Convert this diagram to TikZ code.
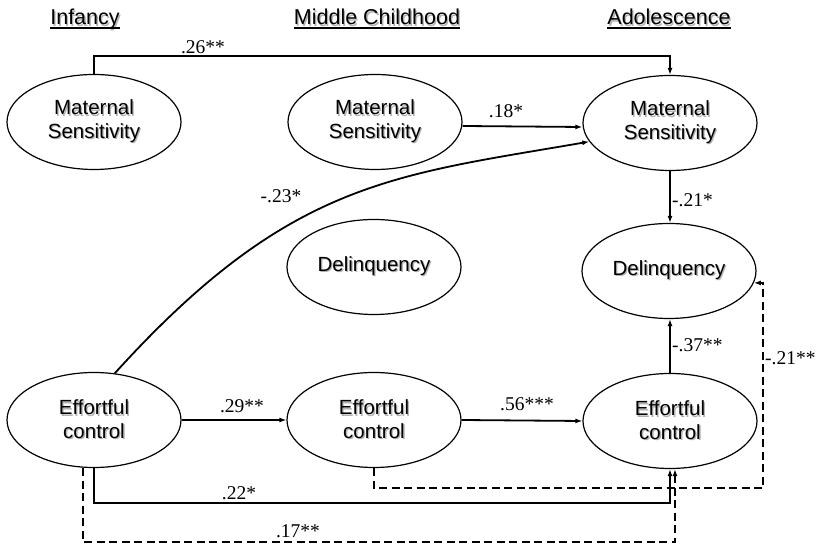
\documentclass[tikz,border=0pt]{standalone}
\usepackage{fontspec}
\setmainfont{Liberation Sans}
\newfontfamily\coeffont{Liberation Serif}
\usetikzlibrary{arrows.meta,shapes.geometric}

% text with a soft grey drop shadow
\newcommand\shd[1]{\rlap{\hspace{1.3pt}\raisebox{-1.3pt}{\color{black!30}#1}}#1}

\tikzset{
  construct/.style={ellipse, draw, line width=1.2pt, minimum width=174pt,
    minimum height=95pt, inner sep=0pt, align=center,
    font=\fontsize{20.5}{23.5}\selectfont},
  period/.style={inner sep=0pt, anchor=base, font=\fontsize{21.5}{24}\selectfont},
  periodline/.style={line width=1.3pt},
  path/.style={line width=1.8pt, -{Latex[length=7pt,width=5pt]}},
  dpath/.style={path, dash pattern=on 8pt off 4.5pt},
  coef/.style={inner sep=0pt, font=\coeffont\fontsize{19.5}{22}\selectfont},
}

\begin{document}
\begin{tikzpicture}[x=1pt,y=1pt]
  \fill[white] (0,0) rectangle (819,548);
  \useasboundingbox (0,0) rectangle (819,548);

  % period headings
  \node[period] (hinf) at (85,523) {\shd{Infancy}};
  \node[period] (hmid) at (377,523) {\shd{Middle Childhood}};
  \node[period] (hado) at (669,523) {\shd{Adolescence}};
  \foreach \h in {hinf,hmid,hado}
    \draw[periodline] ([yshift=-3pt]\h.base west) -- ([yshift=-3pt]\h.base east);

  % constructs
  \node[construct] (ms1) at (94,426) {\shd{Maternal}\\\shd{Sensitivity}};
  \node[construct] (ms2) at (375,426) {\shd{Maternal}\\\shd{Sensitivity}};
  \node[construct] (ms3) at (670,425) {\shd{Maternal}\\\shd{Sensitivity}};
  \node[construct] (del2) at (374,281) {\shd{Delinquency}};
  \node[construct] (del3) at (669,277) {\shd{Delinquency}};
  \node[construct] (ec1) at (94,128) {\shd{Effortful}\\\shd{control}};
  \node[construct] (ec2) at (374,128) {\shd{Effortful}\\\shd{control}};
  \node[construct] (ec3) at (670,127) {\shd{Effortful}\\\shd{control}};

  \coordinate (rc) at (763,0);

  % paths
  \draw[path] (ms1.north) -- ++(0,18) -| (ms3.north);
  \draw[path] ([yshift=-4pt]ms2.east) -- ([yshift=-4pt]ms3.west);
  \draw[path] (ec1.66) .. controls +(174,192) and +(-197,-34) .. (ms3.193);
  \draw[path] (ms3.south) -- (ms3.south |- del3.north);
  \draw[path] (ec3.north) -- (ec3.north |- del3.south);
  \draw[path] (ec1.east) -- (ec2.west);
  \draw[path] (ec2.east) -- (ec3.west);
  \draw[path] (ec1.south) -- ++(0,-35) -| (ec3.south);
  \draw[dpath] ([xshift=-11pt]ec1.south) -- ++(0,-74) -| ([xshift=5pt]ec3.south);
  \draw[dpath] (ec2.south) -- ++(0,-20) -| (rc |- del3.-8) -- (del3.-8);

  % path coefficients
  \node[coef] (c26) at (203,501) {.26**};
  \node[coef] (c18) at (506,437) {.18*};
  \node[coef] (c23) at (281,352) {-.23*};
  \node[coef, anchor=west] (c21a) at (672,348) {-.21*};
  \node[coef, anchor=west] (c37) at (672,203) {-.37**};
  \node[coef, anchor=west] (c21b) at (765,190) {-.21**};
  \node[coef] (c29) at (242,142) {.29**};
  \node[coef] (c56) at (527,144) {.56***};
  \node[coef] (c22) at (239,55) {.22*};
  \node[coef] (c17) at (298,17) {.17**};
\end{tikzpicture}
\end{document}
